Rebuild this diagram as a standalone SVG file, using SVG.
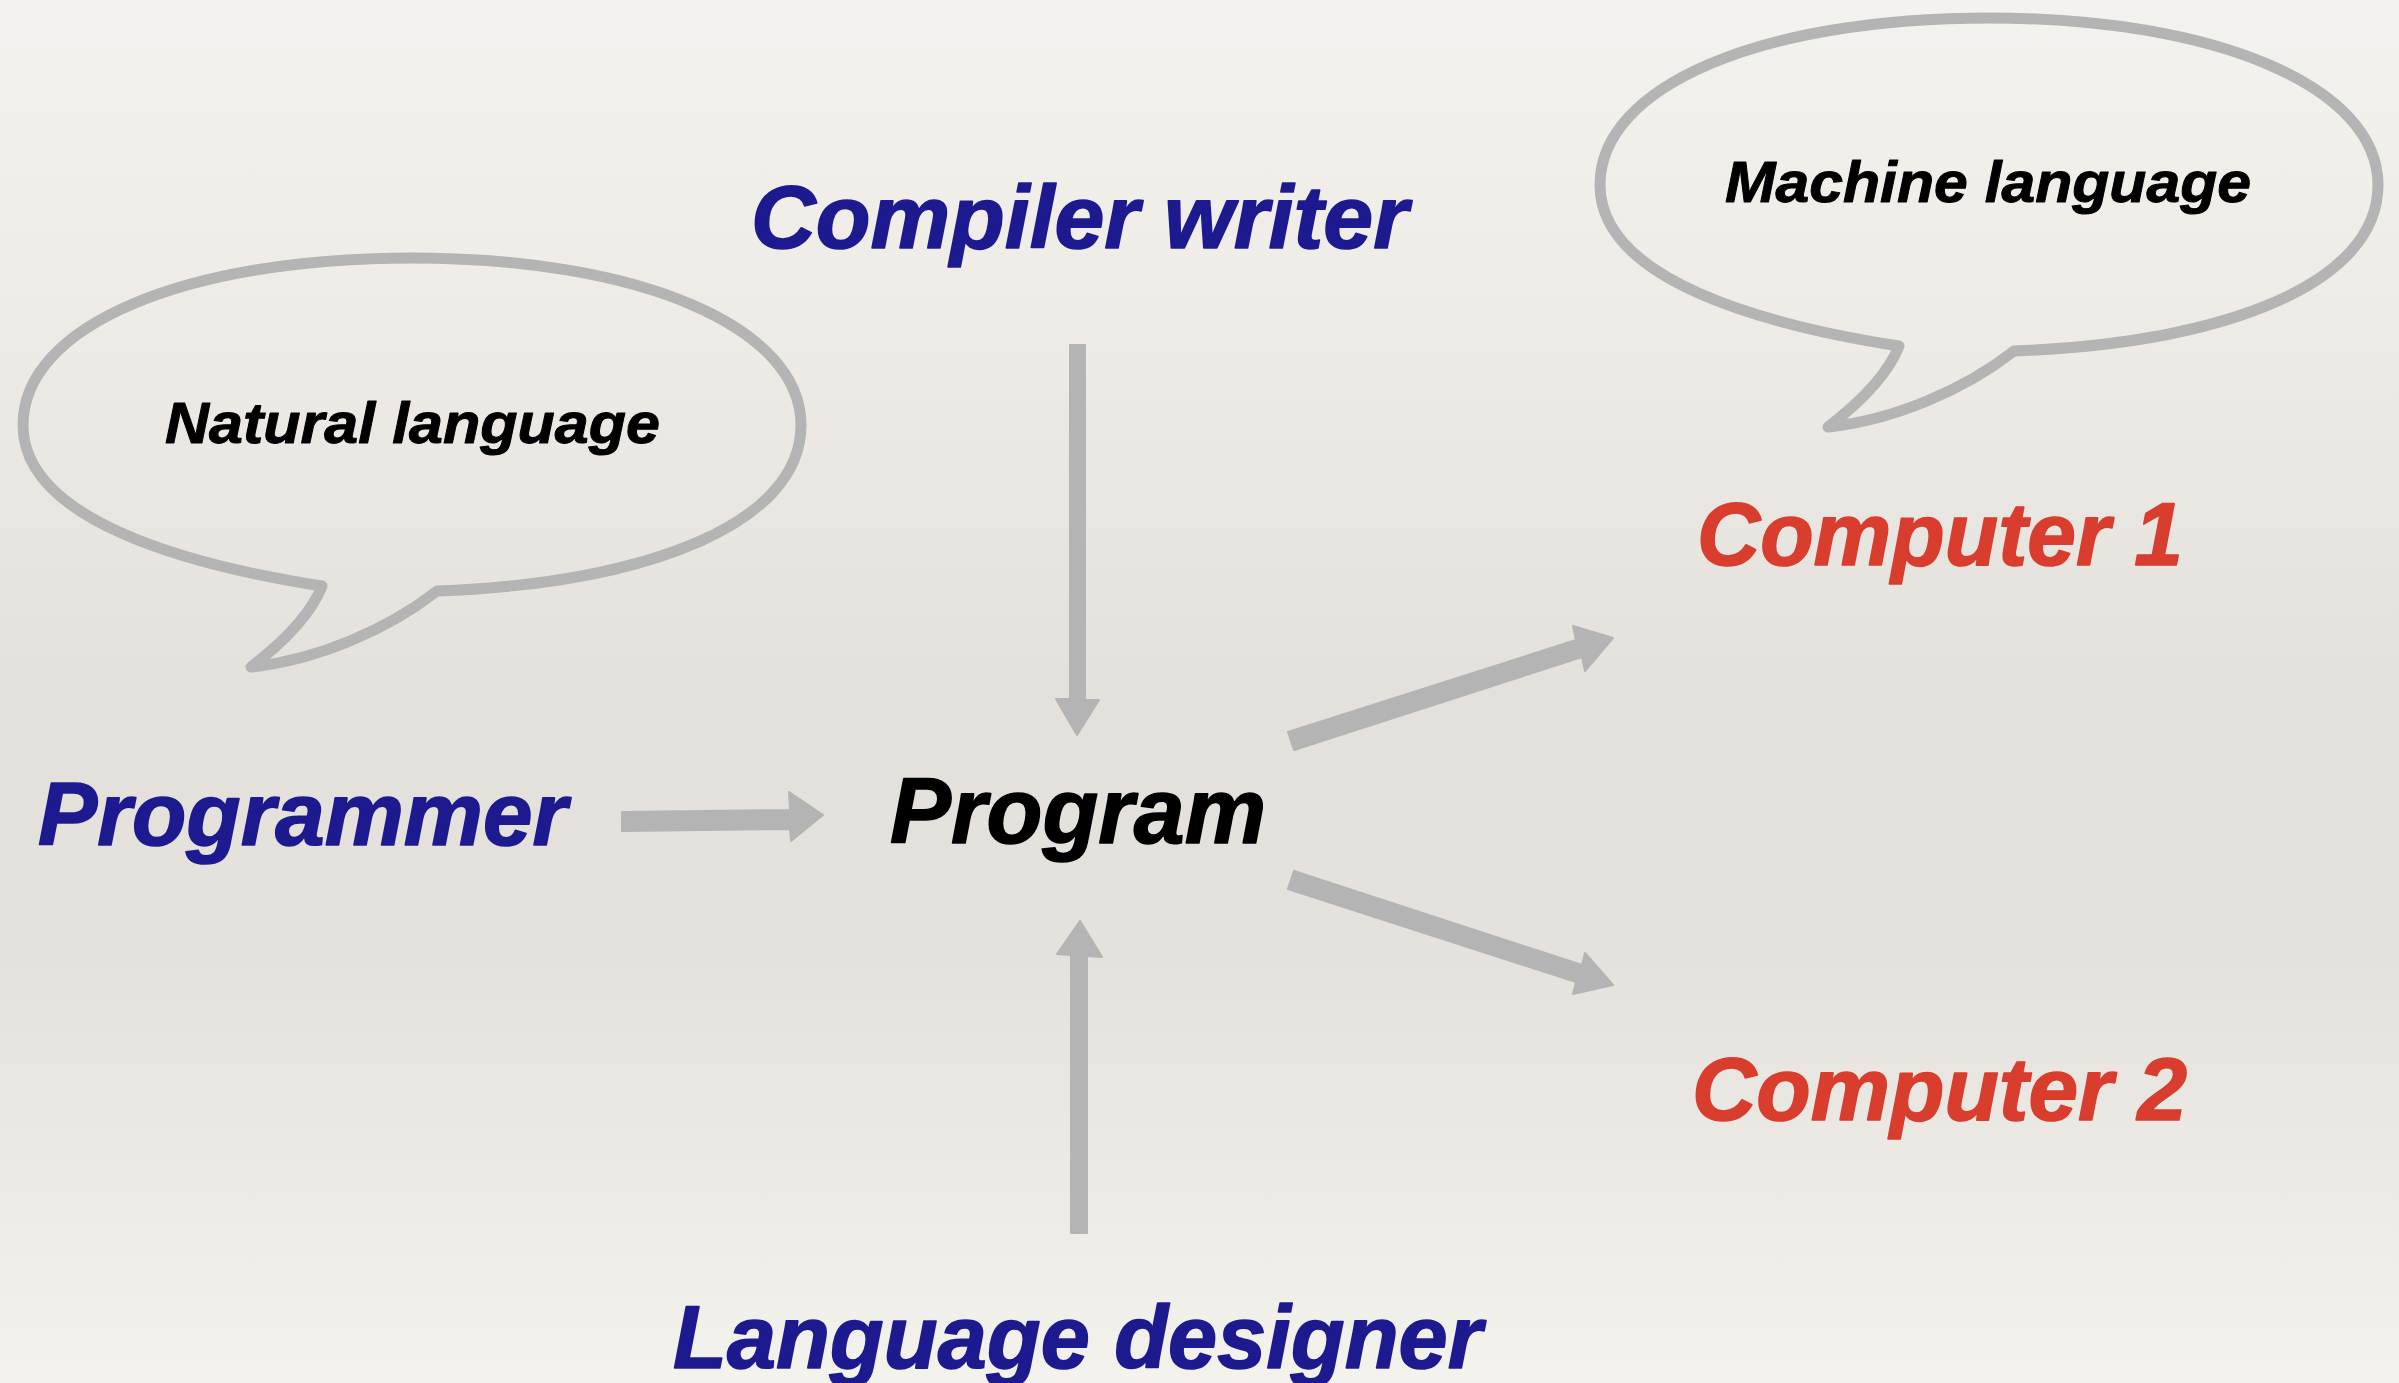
<svg xmlns="http://www.w3.org/2000/svg" xmlns:xlink="http://www.w3.org/1999/xlink" width="2399" height="1383" viewBox="0 0 2399 1383">
  <defs>
    <linearGradient id="bg" x1="0" y1="0" x2="0" y2="1">
      <stop offset="0" stop-color="#f4f2ee"/>
      <stop offset="0.25" stop-color="#eeebe6"/>
      <stop offset="0.5" stop-color="#e4e1dc"/>
      <stop offset="0.7" stop-color="#e5e2dd"/>
      <stop offset="1" stop-color="#f4f2ed"/>
    </linearGradient>
    <path id="bubble" d="M 0,-167 C 230,-167 389,-97 389,0 C 389,97 240,158 25,166 C -25,205 -95,235 -161,242 C -135,222 -102,192 -90,161 C -225,140 -389,95 -389,0 C -389,-100 -226,-167 0,-167 Z"/>
    <style>
      .bubble { fill: none; stroke: #b4b4b4; stroke-width: 11; stroke-linejoin: round; }
      .arrow { fill: #b4b4b4; stroke: #b4b4b4; stroke-width: 2; stroke-linejoin: round; }
      .lbl { font-family: "Liberation Sans", Arial, sans-serif; font-weight: bold; font-style: italic; stroke-linejoin: round; }
      .big { font-size: 89px; stroke-width: 1.6; }
      .small { font-size: 58px; fill: #000000; stroke: #000000; stroke-width: 1; }
      .blue { fill: #1d1a8f; stroke: #1d1a8f; }
      .red { fill: #d93d2d; stroke: #d93d2d; }
      .black { fill: #000000; stroke: #000000; stroke-width: 1.6; }
    </style>
  </defs>

  <rect x="0" y="0" width="2399" height="1383" fill="url(#bg)"/>

  <g id="natural-language-bubble">
    <use xlink:href="#bubble" href="#bubble" class="bubble" transform="translate(412,425)"/>
    <text class="lbl small" x="165" y="443" textLength="495" lengthAdjust="spacingAndGlyphs">Natural language</text>
  </g>

  <g id="machine-language-bubble">
    <use xlink:href="#bubble" href="#bubble" class="bubble" transform="translate(1989,185)"/>
    <text class="lbl small" x="1725" y="202" textLength="526" lengthAdjust="spacingAndGlyphs">Machine language</text>
  </g>

  <g id="compiler-writer">
    <text class="lbl big blue" x="751" y="248" textLength="657" lengthAdjust="spacingAndGlyphs">Compiler writer</text>
  </g>

  <g id="programmer">
    <text class="lbl big blue" x="38" y="845" textLength="529" lengthAdjust="spacingAndGlyphs">Programmer</text>
  </g>

  <g id="program">
    <text class="lbl black" font-size="92" x="890" y="843" textLength="376" lengthAdjust="spacingAndGlyphs">Program</text>
  </g>

  <g id="computer-1">
    <text class="lbl big red" x="1697" y="565" textLength="486" lengthAdjust="spacingAndGlyphs">Computer 1</text>
  </g>

  <g id="computer-2">
    <text class="lbl big red" x="1692" y="1120" textLength="495" lengthAdjust="spacingAndGlyphs">Computer 2</text>
  </g>

  <g id="language-designer">
    <text class="lbl big blue" x="673" y="1368" textLength="809" lengthAdjust="spacingAndGlyphs">Language designer</text>
  </g>

  <g id="connectors">
    <polygon class="arrow" points="622,812 790,810 789,792 823,815 791,841 790,829 622,831"/>
    <polygon class="arrow" points="1070,345 1085,345 1085,700 1099,700 1077,735 1056,699 1070,699"/>
    <polygon class="arrow" points="1080,921 1102,957 1087,956 1087,1233 1071,1233 1071,955 1057,954"/>
    <polygon class="arrow" points="1288,732 1576,640 1573,626 1613,638 1585,671 1582,657 1294,750"/>
    <polygon class="arrow" points="1294,871 1582,965 1585,953 1613,985 1573,994 1576,982 1288,889"/>
  </g>
</svg>
